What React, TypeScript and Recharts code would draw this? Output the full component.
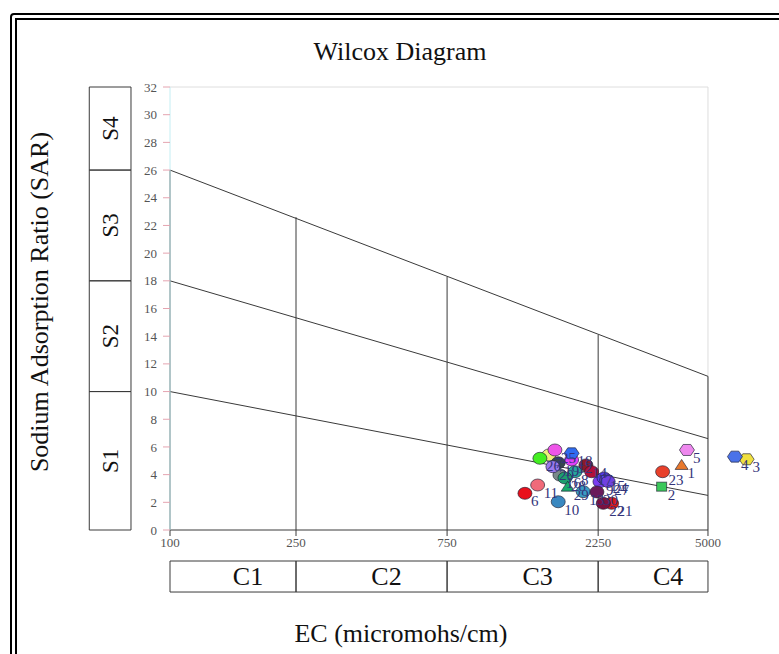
import React from 'react'
import {
  ScatterChart,
  Scatter,
  XAxis,
  YAxis,
  ReferenceLine,
  ReferenceArea,
} from 'recharts'

const FONT = '"Liberation Serif", "Times New Roman", serif'
const LINE = '#3a3a3a'

// water samples: EC (micromhos/cm) vs SAR
const sampleIds = [
  '1', '2', '3', '4', '5', '6', '7', '8', '9', '10',
  '11', '12', '13', '14', '15', '16', '17', '18', '19', '20',
  '21', '22', '23', '24', '25', '26', '27', '28', '29', '30',
]
const ecValues = [
  4128, 3570, 6622, 6083, 4291, 1321, 1573, 1901, 2279, 1683,
  1449, 1855, 2018, 2058, 2347, 1704, 2145, 1855, 1683, 1619,
  2481, 2335, 3595, 2393, 1643, 1473, 2420, 1767, 1803, 2230,
]
const sarValues = [
  4.7, 3.13, 5.11, 5.3, 5.78, 2.65, 5.42, 4.21, 3.49, 2.04,
  3.25, 5.06, 2.77, 4.7, 3.76, 3.97, 4.21, 5.54, 4.86, 4.57,
  1.93, 1.93, 4.21, 3.61, 5.78, 5.18, 3.5, 3.76, 3.13, 2.75,
]
const markerColors = [
  '#e8782c', '#3cc85a', '#f0e040', '#4a72e8', '#ee88ee', '#e8101c', '#eef07a', '#26a69a', '#7a3cf0', '#3a88c0',
  '#f06a7a', '#e040fb', '#3a9cc4', '#8b1a2a', '#5a3cf0', '#7a8a8a', '#b0103a', '#2f6cf0', '#37474f', '#9a7aee',
  '#d81a1a', '#7a1040', '#e8402a', '#6a4cf8', '#ee55e8', '#44ee22', '#7040e0', '#1e9e6e', '#1aaa6a', '#6a1a5a',
]
const markerShapes = [
  'triangle', 'square', 'hexagon', 'hexagon', 'hexagon', 'circle', 'circle', 'circle', 'circle', 'circle',
  'circle', 'circle', 'circle', 'circle', 'circle', 'circle', 'circle', 'hexagon', 'circle', 'circle',
  'circle', 'circle', 'circle', 'circle', 'circle', 'circle', 'circle', 'circle', 'triangle', 'circle',
]

// Wilcox class boundaries
const ecTicks = [100, 250, 750, 2250, 5000]
const ecClassLabels = ['C1', 'C2', 'C3', 'C4']
const sarTicks = [0, 2, 4, 6, 8, 10, 12, 14, 16, 18, 20, 22, 24, 26, 28, 30, 32]
const sarClassEdges = [0, 10, 18, 26, 32]
const sarClassLabels = ['S1', 'S2', 'S3', 'S4']
const boundaryEc = [100, 5000]
const boundaryStart = [10, 18, 26]
const boundaryEnd = [2.5, 6.6, 11.1]
const dividerEc = [250, 750, 2250, 5000]
const dividerTop = [22.6, 18.3, 14.1, 11.1]

// x axis runs a bit past 5000 so samples above C4 still show
const EC_AXIS_MAX = 7850
// box rows drawn outside the plot (data units of the axes)
const S_BOX_EC = [55.6, 75.3]
const C_BOX_SAR = [-2.24, -4.48]

const samples = sampleIds.map((id, i) => ({
  id,
  ec: ecValues[i],
  sar: sarValues[i],
  color: markerColors[i],
  shape: markerShapes[i],
}))

const Marker = (props: any) => {
  const { cx, cy, payload } = props
  if (cx == null || cy == null) return null
  const fill = payload.color
  const stroke = 'rgba(30,30,50,0.65)'
  if (payload.shape === 'triangle') {
    const pts = `${cx},${cy - 5.5} ${cx + 6.5},${cy + 4.5} ${cx - 6.5},${cy + 4.5}`
    return <polygon points={pts} fill={fill} stroke={stroke} strokeWidth={1} />
  }
  if (payload.shape === 'square') {
    return <rect x={cx - 5} y={cy - 4.5} width={10} height={9} fill={fill} stroke={stroke} strokeWidth={1} />
  }
  if (payload.shape === 'hexagon') {
    const pts = [
      [cx - 7.5, cy], [cx - 3.8, cy - 5.5], [cx + 3.8, cy - 5.5],
      [cx + 7.5, cy], [cx + 3.8, cy + 5.5], [cx - 3.8, cy + 5.5],
    ].map((p) => p.join(',')).join(' ')
    return <polygon points={pts} fill={fill} stroke={stroke} strokeWidth={1} />
  }
  return <ellipse cx={cx} cy={cy} rx={7} ry={6} fill={fill} stroke={stroke} strokeWidth={1} />
}

const PointLabel = (props: any) => {
  const { cx, cy, payload } = props
  if (cx == null || cy == null) return null
  return (
    <text x={cx + 6} y={cy + 13} fontSize={15} fill="#34347a" fontFamily={FONT}>
      {payload.id}
    </text>
  )
}

const boxLabel = (text: string, rotate: boolean) => (props: any) => {
  const vb = props.viewBox || props
  const cx = vb.x + vb.width / 2 + (rotate ? 0 : 15)
  const cy = vb.y + vb.height / 2
  return (
    <text
      x={cx}
      y={cy}
      textAnchor="middle"
      dominantBaseline="central"
      fontSize={rotate ? 23 : 26}
      fontFamily={FONT}
      fill="#111"
      transform={rotate ? `rotate(-90 ${cx} ${cy})` : undefined}
    >
      {text}
    </text>
  )
}

export default function App() {
  return (
    <div
      style={{
        position: 'absolute', left: 0, top: 0, width: 779, height: 654,
        overflow: 'hidden', background: '#fff', fontFamily: FONT,
      }}
    >
      <div
        style={{
          position: 'absolute', left: 10, top: 13, width: 820, height: 700,
          border: '7px double #000', borderRadius: 4, boxSizing: 'border-box',
        }}
      />
      <div
        style={{
          position: 'absolute', left: 200, top: 37, width: 400, height: 30,
          lineHeight: '30px', textAlign: 'center', fontSize: 26, color: '#111',
        }}
      >
        Wilcox Diagram
      </div>
      <div
        style={{
          position: 'absolute', left: -160, top: 287, width: 400, height: 30,
          lineHeight: '30px', textAlign: 'center', fontSize: 26, color: '#111',
          transform: 'rotate(-90deg)', transformOrigin: '50% 50%',
        }}
      >
        Sodium Adsorption Ratio (SAR)
      </div>
      <div
        style={{
          position: 'absolute', left: 201, top: 619, width: 400, height: 30,
          lineHeight: '30px', textAlign: 'center', fontSize: 26, color: '#111',
        }}
      >
        EC (micromohs/cm)
      </div>
      <div style={{ position: 'absolute', left: 0, top: 0 }}>
        <ScatterChart
          width={779}
          height={654}
          margin={{ top: 87, right: 9, bottom: 94, left: 140 }}
        >
          <XAxis
            type="number"
            dataKey="ec"
            scale="log"
            domain={[100, EC_AXIS_MAX]}
            ticks={ecTicks}
            interval={0}
            height={30}
            axisLine={false}
            tickSize={6}
            tickLine={{ stroke: LINE }}
            tick={{ fontSize: 13, fill: '#555', fontFamily: FONT }}
          />
          <YAxis
            type="number"
            dataKey="sar"
            domain={[0, 32]}
            ticks={sarTicks}
            interval={0}
            width={30}
            axisLine={{ stroke: '#c4eef3' }}
            tickSize={7}
            tickMargin={6}
            tickLine={{ stroke: '#e4a4b0' }}
            tick={{ fontSize: 13, fill: '#555', fontFamily: FONT }}
          />
          {/* light plot frame */}
          <ReferenceLine
            segment={[{ x: 100, y: 32 }, { x: 5000, y: 32 }]}
            stroke="#dedede"
            ifOverflow="visible"
          />
          <ReferenceLine
            segment={[{ x: 5000, y: 0 }, { x: 5000, y: 32 }]}
            stroke="#dedede"
            ifOverflow="visible"
          />
          {/* salinity class row */}
          {ecClassLabels.map((label, i) => (
            <ReferenceArea
              key={label}
              x1={ecTicks[i]}
              x2={ecTicks[i + 1]}
              y1={C_BOX_SAR[0]}
              y2={C_BOX_SAR[1]}
              ifOverflow="visible"
              fill="none"
              stroke={LINE}
              strokeWidth={1}
              label={boxLabel(label, false)}
            />
          ))}
          {/* sodium class column */}
          {sarClassLabels.map((label, i) => (
            <ReferenceArea
              key={label}
              x1={S_BOX_EC[0]}
              x2={S_BOX_EC[1]}
              y1={sarClassEdges[i]}
              y2={sarClassEdges[i + 1]}
              ifOverflow="visible"
              fill="none"
              stroke={LINE}
              strokeWidth={1}
              label={boxLabel(label, true)}
            />
          ))}
          <ReferenceLine
            segment={[{ x: 100, y: 0 }, { x: 5000, y: 0 }]}
            stroke={LINE}
            ifOverflow="visible"
          />
          <ReferenceLine
            segment={[{ x: 100, y: 0 }, { x: 100, y: boundaryStart[2] }]}
            stroke={LINE}
            ifOverflow="visible"
          />
          {dividerEc.map((ec, i) => (
            <ReferenceLine
              key={`d${ec}`}
              segment={[{ x: ec, y: 0 }, { x: ec, y: dividerTop[i] }]}
              stroke={LINE}
              ifOverflow="visible"
            />
          ))}
          {boundaryStart.map((s, i) => (
            <ReferenceLine
              key={`b${i}`}
              segment={[{ x: boundaryEc[0], y: s }, { x: boundaryEc[1], y: boundaryEnd[i] }]}
              stroke={LINE}
              ifOverflow="visible"
            />
          ))}
          <Scatter data={samples} shape={Marker} isAnimationActive={false} />
          <Scatter data={samples} shape={PointLabel} isAnimationActive={false} />
        </ScatterChart>
      </div>
    </div>
  )
}
